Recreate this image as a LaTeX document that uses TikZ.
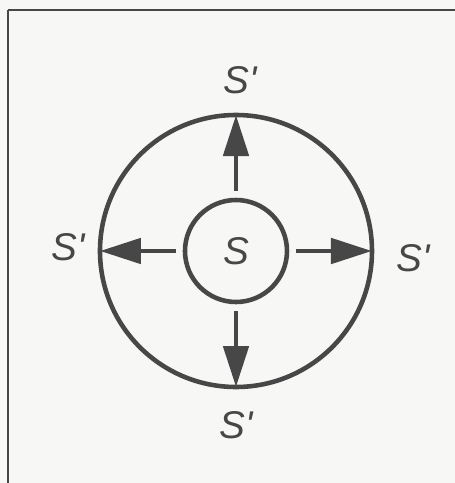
\documentclass[tikz,border=0pt]{standalone}
\usepackage{fontspec}
\setsansfont{Liberation Sans}
\usetikzlibrary{arrows.meta}
\definecolor{ink}{HTML}{474747}
\definecolor{paper}{HTML}{F7F7F5}
\tikzstyle{ring}=[circle, draw=ink, line width=2.6pt, inner sep=0pt, outer sep=0pt]
\tikzstyle{flow}=[draw=ink, line width=2.8pt, -{Triangle[length=0.82cm, width=0.5cm]}, shorten <=0.18cm]
\tikzstyle{lbl}=[text=ink, font=\fontsize{22}{26}\selectfont\sffamily\itshape, inner sep=0pt]

\begin{document}
\begin{tikzpicture}
				% Page and frame of the scan
				\fill[paper] (-4.72,-4.64) rectangle (4.38,5.02);
				\useasboundingbox (-4.72,-4.64) rectangle (4.38,5.02);
				\draw[ink, line width=1.2pt] (-4.56,-4.64) -- (-4.56,4.82);
				\draw[ink, line width=0.8pt] (-4.56,4.82) -- (4.38,4.82);

				% Inner and outer region
				\node[ring, minimum size=5.44cm] (outer) at (0,0) {};
				\node[ring, minimum size=2.04cm] (inner) at (0,0) {};
				\node[lbl] (s) at (0,0) {S};

				% Flow from S outwards
				\foreach \dir in {north, south, east, west}{ \draw[flow] (inner.\dir) -- (outer.\dir); }

				\node[lbl] (stop) at (0.08,3.42) {S\textquotesingle};
				\node[lbl] (sleft) at (-3.36,0.08) {S\textquotesingle};
				\node[lbl] (sright) at (3.54,-0.14) {S\textquotesingle};
				\node[lbl] (sbottom) at (0,-3.48) {S\textquotesingle};
			\end{tikzpicture}
\end{document}
